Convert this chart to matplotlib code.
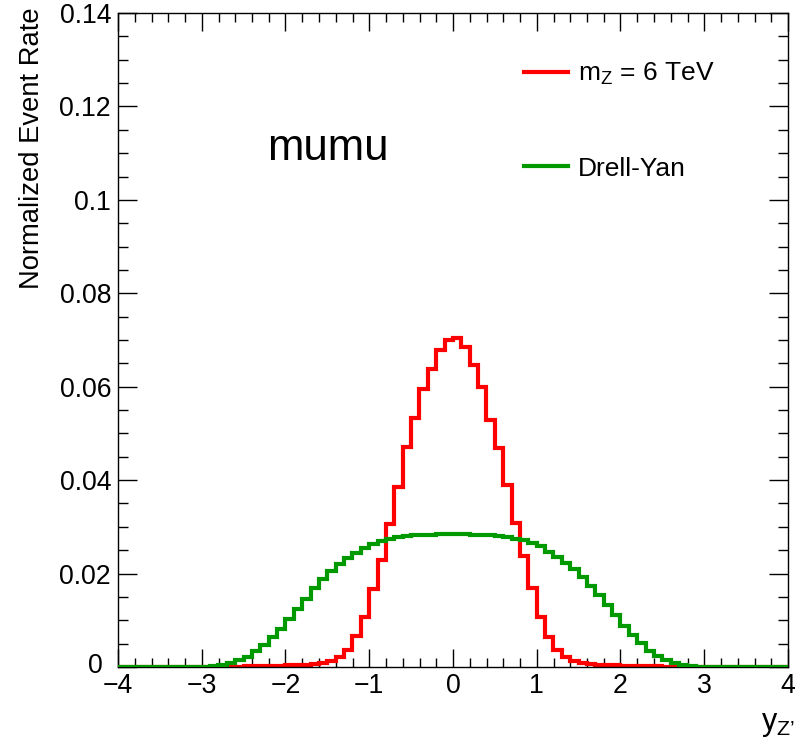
import numpy as np
import matplotlib
matplotlib.use("Agg")
import matplotlib.pyplot as plt
import matplotlib.transforms as mtransforms
from matplotlib.lines import Line2D

plt.rcParams['font.family'] = ['Liberation Sans', 'DejaVu Sans']
plt.rcParams['mathtext.fontset'] = 'custom'
plt.rcParams['mathtext.rm'] = 'Liberation Sans'
plt.rcParams['mathtext.it'] = 'Liberation Sans:italic'

# ---- data ----
bin_edges = np.round(np.arange(-4.0, 4.0001, 0.1), 2)

signal_label = r'$\mathregular{m_{Z}}$ = 6 TeV'
signal_values = [0.0] * 12 + [
    0.00005, 0.0001, 0.0001, 0.00015, 0.0002, 0.0002, 0.00025, 0.0003,
    0.0004, 0.0004, 0.0005, 0.0006, 0.0009, 0.0013, 0.0021, 0.0036,
    0.0066, 0.0108, 0.0166, 0.0229, 0.0306, 0.0386, 0.0471, 0.0534,
    0.0596, 0.0637, 0.0679, 0.0701,
    0.0705, 0.0686, 0.0646, 0.0600, 0.0529, 0.0468, 0.0389, 0.0309,
    0.0237, 0.0170, 0.0106, 0.0064, 0.0037, 0.0021, 0.0013, 0.0009,
    0.0006, 0.0005, 0.0004, 0.0004, 0.0003, 0.0003, 0.0002, 0.0002,
    0.00015, 0.0001, 0.0001, 0.00005,
] + [0.0] * 12

dy_label = 'Drell-Yan'
dy_values = [0.0] * 10 + [
    0.0001, 0.0002, 0.0004, 0.0008, 0.0014, 0.0022, 0.0035, 0.0048,
    0.0064, 0.0081, 0.0102, 0.0124, 0.0145, 0.0169, 0.0188, 0.0206,
    0.0220, 0.0233, 0.0244, 0.0254, 0.0263, 0.0270, 0.0275, 0.0279,
    0.0281, 0.0282, 0.0283, 0.0283, 0.0284, 0.0284,
    0.0284, 0.0284, 0.0283, 0.0283, 0.0282, 0.0280, 0.0278, 0.0275,
    0.0271, 0.0266, 0.0258, 0.0247, 0.0236, 0.0222, 0.0209, 0.0192,
    0.0174, 0.0154, 0.0133, 0.0111, 0.0088, 0.0069, 0.0051, 0.0035,
    0.0024, 0.0015, 0.0008, 0.0004, 0.0002, 0.0001,
] + [0.0] * 10

x_ticks = [-4, -3, -2, -1, 0, 1, 2, 3, 4]
y_ticks = [0, 0.02, 0.04, 0.06, 0.08, 0.1, 0.12, 0.14]
y_tick_labels = ['0', '0.02', '0.04', '0.06', '0.08', '0.1', '0.12', '0.14']
channel_text = 'mumu'
x_title = '$\\mathregular{y_{Z\u2019}}$'
y_title = 'Normalized Event Rate'

# ---- figure ----
fig = plt.figure(figsize=(8.0, 7.48), dpi=100)
ax = fig.add_axes([0.1475, 0.1083, 0.8375, 0.8743])

red = '#ff0000'
green = '#009900'
ax.stairs(signal_values, bin_edges, color=red, lw=3.0, baseline=None, zorder=2)
ax.stairs(dy_values, bin_edges, color=green, lw=3.0, baseline=None, zorder=3)

ax.set_xlim(-4, 4)
ax.set_ylim(0, 0.14)

ax.set_xticks(x_ticks)
ax.set_xticklabels([('\u2212' if v < 0 else '') + str(abs(v)) for v in x_ticks])
ax.set_xticks(np.arange(-4, 4.001, 0.2), minor=True)
ax.set_yticks(y_ticks)
ax.set_yticklabels(y_tick_labels)
ax.set_yticks(np.arange(0, 0.1401, 0.005), minor=True)

ax.tick_params(axis='both', which='both', direction='in', top=True, right=True,
               width=1.0, colors='black', labelsize=19.2)
ax.tick_params(axis='x', which='major', length=13, pad=4)
ax.tick_params(axis='x', which='minor', length=6.5)
ax.tick_params(axis='y', which='major', length=14, pad=5)
ax.tick_params(axis='y', which='minor', length=7)
for s in ax.spines.values():
    s.set_linewidth(1.0)

# shift the "0" label on the y axis slightly away from the x labels (as in ROOT)
zero_lbl = ax.yaxis.get_majorticklabels()[0]
zero_lbl.set_transform(zero_lbl.get_transform() +
                       mtransforms.ScaledTranslation(-8 / 100, 4 / 100, fig.dpi_scale_trans))

ax.text(-0.129, 1.008, y_title, rotation=90, ha='center', va='top',
        fontsize=19.7, transform=ax.transAxes)
ax.text(1.0104, -0.096, x_title, ha='right', va='baseline',
        fontsize=22, transform=ax.transAxes)

ax.text(0.3134, 0.776, channel_text, ha='center', va='baseline', fontsize=31.5,
        transform=ax.transAxes)

handles = [Line2D([], [], color=red, lw=3.0), Line2D([], [], color=green, lw=3.0)]
ax.legend(handles, [signal_label, dy_label], loc='upper left',
          bbox_to_anchor=(0.606, 0.927), frameon=False, fontsize=19,
          borderpad=0, borderaxespad=0, handlelength=1.67, handletextpad=0.38,
          labelspacing=2.64)

fig.savefig('out.png', dpi=100)
